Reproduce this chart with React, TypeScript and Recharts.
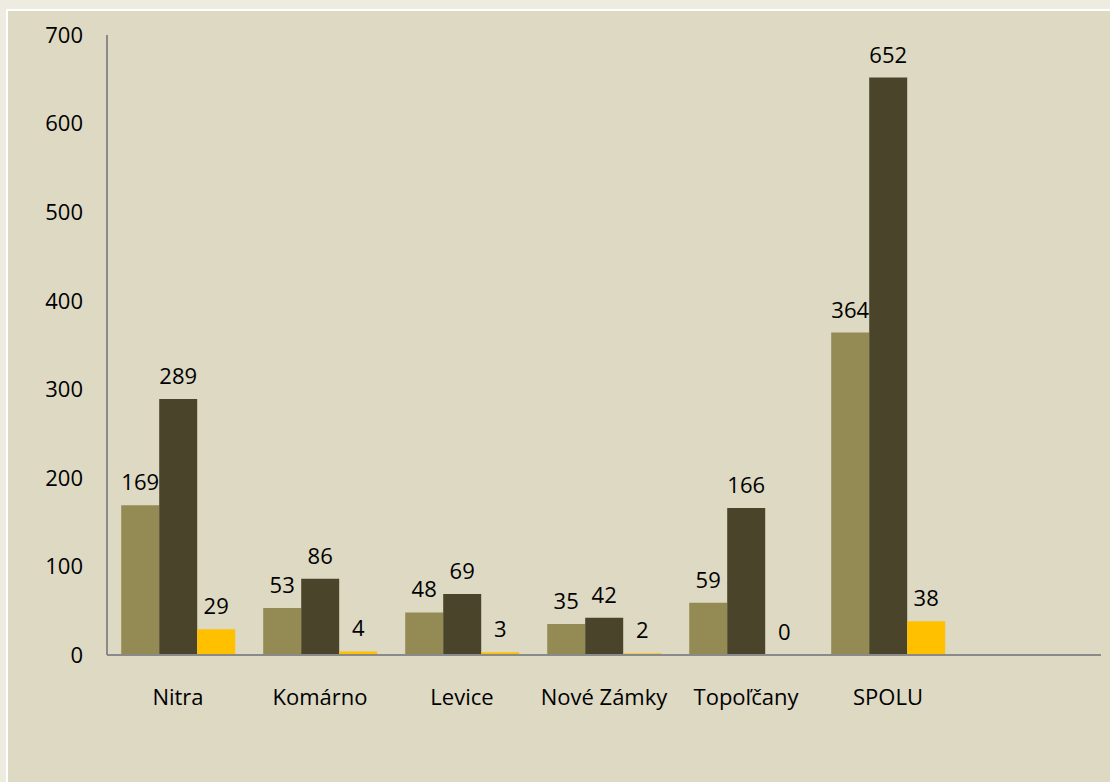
import { BarChart, Bar, XAxis, YAxis, LabelList } from "recharts";

// okresy + súčet; posledná kategória je prázdna (os v originále pokračuje)
const districts = ["Nitra", "Komárno", "Levice", "Nové Zámky", "Topoľčany", "SPOLU", ""];
const seriesA = [169, 53, 48, 35, 59, 364, null];
const seriesB = [289, 86, 69, 42, 166, 652, null];
const seriesC = [29, 4, 3, 2, 0, 38, null];
const yTicks = [0, 100, 200, 300, 400, 500, 600, 700];

const colors = ["#948a54", "#4a442a", "#ffc000"];
const FONT = "'Open Sans', 'DejaVu Sans', sans-serif";
const FS = 22;

const data = districts.map((name, i) => ({
  name,
  a: seriesA[i],
  b: seriesB[i],
  c: seriesC[i],
}));

const labelStyle = { fontSize: FS, fill: "#000", fontFamily: FONT };
// nulová hodnota musí mať aspoň neviditeľný stĺpec, inak zmizne aj popisok
const keepZero = (v: unknown) => (v === 0 ? 0.1 : 0);

export default function App() {
  return (
    <div
      style={{
        position: "absolute",
        left: 0,
        top: 0,
        width: 1110,
        height: 782,
        background: "#eeece1",
        overflow: "hidden",
      }}
    >
      <div
        style={{
          position: "absolute",
          left: 6,
          top: 9,
          right: 0,
          bottom: 0,
          background: "#ddd9c3",
          borderLeft: "2px solid #ffffff",
          borderTop: "2px solid #ffffff",
        }}
      />
      <div style={{ position: "absolute", left: 0, top: 0 }}>
        <BarChart
          width={1110}
          height={782}
          data={data}
          margin={{ top: 35, right: 9, left: 0, bottom: 67 }}
          barCategoryGap="10%"
          barGap={0}
        >
          <XAxis
            dataKey="name"
            height={60}
            axisLine={{ stroke: "#8a8a8a", strokeWidth: 2 }}
            tickLine={false}
            tickSize={6}
            tickMargin={28}
            tick={{ fontSize: FS, fill: "#000", fontFamily: FONT }}
            interval={0}
          />
          <YAxis
            width={107}
            domain={[0, 700]}
            ticks={yTicks}
            axisLine={{ stroke: "#8a8a8a", strokeWidth: 2 }}
            tickLine={false}
            tickSize={6}
            tickMargin={18}
            tick={{ fontSize: FS, fill: "#000", fontFamily: FONT }}
          />
          <Bar dataKey="a" fill={colors[0]} isAnimationActive={false}>
            <LabelList dataKey="a" position="top" offset={15} style={labelStyle} />
          </Bar>
          <Bar dataKey="b" fill={colors[1]} isAnimationActive={false}>
            <LabelList dataKey="b" position="top" offset={15} style={labelStyle} />
          </Bar>
          <Bar dataKey="c" fill={colors[2]} minPointSize={keepZero} isAnimationActive={false}>
            <LabelList dataKey="c" position="top" offset={15} style={labelStyle} />
          </Bar>
        </BarChart>
      </div>
    </div>
  );
}
